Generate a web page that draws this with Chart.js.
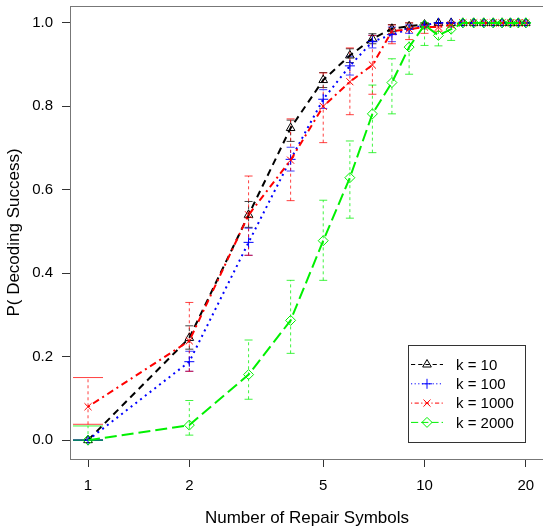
<!DOCTYPE html>
<html>
<head>
<meta charset="utf-8">
<script src="https://cdn.jsdelivr.net/npm/chart.js@4.4.1/dist/chart.umd.min.js"></script>
<style>
  html, body { margin: 0; padding: 0; background: #fff; overflow: hidden; }
  #wrap { width: 543px; height: 527px; overflow: hidden; }
</style>
</head>
<body>
<div id="wrap"><canvas id="decodingChart" width="550" height="527"></canvas></div>
<script>
// Number of repair symbols (x) and P(decoding success) per k
const repairSymbols = [1, 2, 3, 4, 5, 6, 7, 8, 9, 10, 11, 12, 13, 14, 15, 16, 17, 18, 19, 20];
const xTicks = [1, 2, 5, 10, 20];
const yTicks = [0, 0.2, 0.4, 0.6, 0.8, 1.0];
const seriesLabels = ['k = 10', 'k = 100', 'k = 1000', 'k = 2000'];

const k10 = [0.0, 0.245, 0.54, 0.748, 0.863, 0.922, 0.962, 0.986, 0.992, 0.996, 1, 1, 1, 1, 1, 1, 1, 1, 1, 1];
const k10Low = [0.0, 0.218, 0.51, 0.716, 0.845, 0.905, 0.95, 0.975, 0.985, 0.99, 1, 1, 1, 1, 1, 1, 1, 1, 1, 1];
const k10High = [0.0, 0.274, 0.572, 0.767, 0.881, 0.938, 0.974, 0.996, 1, 1, 1, 1, 1, 1, 1, 1, 1, 1, 1, 1];

const k100 = [0.0, 0.188, 0.474, 0.673, 0.817, 0.897, 0.955, 0.972, 0.985, 0.995, 1, 1, 1, 1, 1, 1, 1, 1, 1, 1];
const k100Low = [0.0, 0.165, 0.443, 0.645, 0.795, 0.875, 0.94, 0.955, 0.975, 0.99, 1, 1, 1, 1, 1, 1, 1, 1, 1, 1];
const k100High = [0.0, 0.213, 0.508, 0.702, 0.84, 0.92, 0.97, 0.99, 0.995, 1, 1, 1, 1, 1, 1, 1, 1, 1, 1, 1];

const k1000 = [0.08, 0.238, 0.54, 0.671, 0.80, 0.859, 0.899, 0.98, 0.985, 0.99, 0.99, 0.995, 1, 1, 1, 1, 1, 1, 1, 1];
const k1000Low = [0.038, 0.165, 0.443, 0.574, 0.713, 0.78, 0.829, 0.95, 0.96, 0.975, 0.98, 0.99, 1, 1, 1, 1, 1, 1, 1, 1];
const k1000High = [0.15, 0.33, 0.633, 0.77, 0.88, 0.94, 0.97, 0.995, 1, 1, 1, 1, 1, 1, 1, 1, 1, 1, 1, 1];

const k2000 = [0.0, 0.036, 0.157, 0.287, 0.478, 0.629, 0.782, 0.857, 0.942, 0.995, 0.97, 0.985, 1, 1, 1, 1, 1, 1, 1, 1];
const k2000Low = [0.0, 0.012, 0.098, 0.208, 0.383, 0.532, 0.689, 0.782, 0.877, 0.946, 0.945, 0.958, 1, 1, 1, 1, 1, 1, 1, 1];
const k2000High = [0.034, 0.095, 0.24, 0.383, 0.575, 0.717, 0.851, 0.914, 0.99, 1, 1, 1, 1, 1, 1, 1, 1, 1, 1, 1];

const FONT = "'Liberation Sans', Arial, Helvetica, sans-serif";

function makeSeries(label, values, low, high, color, dash, pointStyle, order) {
  return {
    label: label,
    data: repairSymbols.map((n, i) => ({ x: n, y: values[i] })),
    errLow: low,
    errHigh: high,
    borderColor: color,
    backgroundColor: 'rgba(0,0,0,0)',
    borderWidth: 2,
    borderDash: dash,
    pointStyle: pointStyle,
    pointRadius: 5,
    pointBorderWidth: 1,
    pointBorderColor: color,
    pointBackgroundColor: 'rgba(0,0,0,0)',
    tension: 0,
    order: order
  };
}

const datasets = [
  makeSeries(seriesLabels[0], k10, k10Low, k10High, '#000000', [7, 5], 'triangle', 4),
  makeSeries(seriesLabels[1], k100, k100Low, k100High, '#0000ff', [2, 4], 'cross', 3),
  makeSeries(seriesLabels[2], k1000, k1000Low, k1000High, '#ff0000', [2, 4, 7, 4], 'crossRot', 2),
  makeSeries(seriesLabels[3], k2000, k2000Low, k2000High, '#00f000', [12, 5], 'rectRot', 1)
];

// vertical dashed error bars with solid caps
const errorBars = {
  id: 'errorBars',
  beforeDatasetsDraw(chart) {
    const { ctx, scales: { x, y } } = chart;
    chart.data.datasets.forEach(ds => {
      ctx.save();
      ctx.strokeStyle = ds.borderColor;
      ctx.globalAlpha = 0.75;
      ctx.lineWidth = 1;
      repairSymbols.forEach((n, j) => {
        const px = x.getPixelForValue(n);
        const yl = y.getPixelForValue(ds.errLow[j]);
        const yh = y.getPixelForValue(ds.errHigh[j]);
        const cap = j === 0 ? 15 : 4;
        ctx.setLineDash([3, 3]);
        ctx.beginPath(); ctx.moveTo(px, yl); ctx.lineTo(px, yh); ctx.stroke();
        ctx.setLineDash([]);
        ctx.beginPath();
        ctx.moveTo(px - cap, yl); ctx.lineTo(px + cap, yl);
        ctx.moveTo(px - cap, yh); ctx.lineTo(px + cap, yh);
        ctx.stroke();
      });
      ctx.restore();
    });
  }
};

// R style box around the plot and a legend with line + symbol
const boxAndLegend = {
  id: 'boxAndLegend',
  afterDraw(chart) {
    const { ctx, chartArea: a } = chart;
    ctx.save();
    ctx.strokeStyle = '#777';
    ctx.lineWidth = 1;
    ctx.strokeRect(a.left + 0.5, a.top + 0.5, a.right - a.left, a.bottom - a.top);

    const left = a.right - 136, right = a.right - 19;
    const top = a.bottom - 114, bottom = a.bottom - 17;
    ctx.strokeStyle = '#333';
    ctx.strokeRect(left + 0.5, top + 0.5, right - left, bottom - top);
    ctx.font = '15px ' + FONT;
    ctx.textBaseline = 'middle';
    ctx.textAlign = 'left';
    chart.data.datasets.forEach((ds, i) => {
      const yy = top + 19.5 + i * 19.3;
      ctx.strokeStyle = ds.borderColor;
      ctx.lineWidth = 1;
      ctx.setLineDash(ds.borderDash.map(d => d * 0.6));
      ctx.beginPath(); ctx.moveTo(left + 3, yy); ctx.lineTo(left + 35, yy); ctx.stroke();
      ctx.setLineDash([]);
      ctx.fillStyle = 'rgba(0,0,0,0)';
      Chart.helpers.drawPoint(ctx, { pointStyle: ds.pointStyle, radius: 5, rotation: 0, borderWidth: 1 }, left + 19, yy);
      ctx.fillStyle = '#000';
      ctx.fillText(ds.label, left + 48, yy + 1);
    });
    ctx.restore();
  }
};

new Chart(document.getElementById('decodingChart').getContext('2d'), {
  type: 'line',
  data: { datasets: datasets },
  options: {
    responsive: false,
    animation: false,
    layout: { padding: { top: 3, right: 4, left: 0, bottom: 0 } },
    plugins: {
      legend: { display: false },
      tooltip: { enabled: false }
    },
    scales: {
      x: {
        type: 'logarithmic',
        min: 0.884,
        max: 22.65,
        afterFit: s => { s.height = 68; s.paddingLeft = 0; s.paddingRight = 0; },
        afterBuildTicks: s => { s.ticks = xTicks.map(v => ({ value: v })); },
        grid: { drawOnChartArea: false, drawTicks: true, tickLength: 8, color: '#333' },
        border: { display: true, color: '#222' },
        ticks: {
          autoSkip: false,
          maxRotation: 0,
          padding: 10,
          color: '#000',
          font: { family: FONT, size: 15 },
          callback: v => String(v)
        },
        title: {
          display: true,
          text: 'Number of Repair Symbols',
          color: '#000',
          font: { family: FONT, size: 17, lineHeight: 1.0 },
          padding: { top: 0, bottom: 0 }
        }
      },
      y: {
        type: 'linear',
        min: -0.0452,
        max: 1.0405,
        afterFit: s => { s.width = 70; s.paddingTop = 0; s.paddingBottom = 0; },
        afterBuildTicks: s => { s.ticks = yTicks.map(v => ({ value: v })); },
        grid: { drawOnChartArea: false, drawTicks: true, tickLength: 8, color: '#333' },
        border: { display: true, color: '#222' },
        ticks: {
          padding: 9,
          color: '#000',
          font: { family: FONT, size: 15 },
          callback: v => v.toFixed(1)
        },
        title: {
          display: true,
          text: 'P( Decoding Success)',
          color: '#000',
          font: { family: FONT, size: 17 },
          padding: { top: 4, bottom: 0 }
        }
      }
    }
  },
  plugins: [errorBars, boxAndLegend]
});
</script>
</body>
</html>
